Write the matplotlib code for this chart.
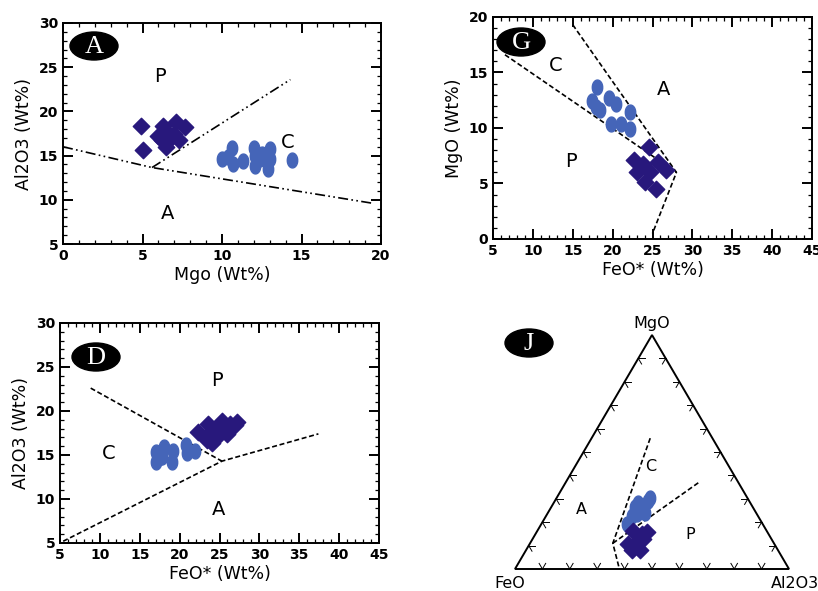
import matplotlib
matplotlib.use("Agg")
import matplotlib.pyplot as plt
import matplotlib.patches as patches
from matplotlib.path import Path
from matplotlib.ticker import MultipleLocator
import numpy as np

# ---- data ----
# panel A : MgO vs Al2O3
a_dia_mgo = [4.9, 5.0, 6.0, 6.3, 6.4, 6.7, 7.1, 7.3, 7.7, 6.5, 6.8, 7.0, 6.2]
a_dia_al = [18.4, 15.6, 17.2, 18.3, 16.5, 17.3, 18.8, 16.8, 18.2, 16.0, 17.0, 17.5, 16.8]
a_cir_mgo = [10.0, 10.4, 10.6, 10.7, 11.3, 12.0, 12.1, 12.1, 12.5, 12.8, 12.9, 13.0, 13.0, 14.4, 12.4]
a_cir_al = [14.6, 14.8, 15.9, 14.0, 14.4, 15.9, 14.9, 13.8, 15.2, 14.8, 13.5, 15.8, 14.6, 14.5, 14.6]
a_line1_x = [0, 5.6, 19.5]
a_line1_y = [16.0, 13.65, 9.6]
a_line2_x = [5.6, 14.3]
a_line2_y = [13.65, 23.6]

# panel G : FeO* vs MgO
g_cir_fe = [18.1, 17.4, 18.4, 19.5, 20.4, 19.8, 21.1, 22.2, 22.2, 17.9]
g_cir_mg = [13.7, 12.4, 11.6, 12.7, 12.2, 10.4, 10.4, 9.9, 11.4, 11.9]
g_dia_fe = [24.5, 22.7, 23.8, 23.0, 24.7, 25.7, 26.7, 24.0, 25.5, 24.2]
g_dia_mg = [8.3, 7.1, 6.8, 6.0, 6.0, 6.9, 6.2, 5.1, 4.5, 6.4]
g_line1_x = [6.5, 28.0]
g_line1_y = [16.6, 6.0]
g_line2_x = [15.0, 28.0, 25.0]
g_line2_y = [19.3, 6.0, 0.5]

# panel D : FeO* vs Al2O3
d_cir_fe = [17.1, 17.1, 18.0, 17.8, 19.2, 19.1, 20.8, 20.9, 21.9, 17.4]
d_cir_al = [15.3, 14.2, 15.9, 14.8, 15.5, 14.2, 16.1, 15.2, 15.5, 14.7]
d_dia_fe = [22.3, 23.6, 23.7, 24.9, 25.3, 26.3, 27.2, 24.6, 23.4, 25.9, 24.0, 26.9]
d_dia_al = [17.6, 18.5, 17.4, 17.8, 18.9, 18.5, 18.7, 16.9, 16.7, 17.4, 16.4, 18.4]
d_line1_x = [8.85, 25.3]
d_line1_y = [22.6, 14.3]
d_line2_x = [5.4, 25.3, 37.4]
d_line2_y = [5.2, 14.3, 17.4]

# panel J : ternary FeO - MgO - Al2O3 (percent)
j_cir_fe = [49.5, 46.0, 43.0, 40.8, 39.7, 36.8, 35.5, 40.5, 43.8]
j_cir_mg = [19.3, 22.8, 26.3, 28.4, 27.0, 29.1, 30.5, 24.1, 23.5]
j_cir_al = [31.2, 31.2, 30.7, 30.8, 33.3, 34.1, 34.0, 35.4, 32.7]
j_dia_fe = [48.6, 46.3, 44.1, 53.2, 49.8, 50.4, 53.4, 46.7]
j_dia_mg = [16.4, 15.0, 15.7, 10.8, 11.5, 8.0, 8.0, 12.9]
j_dia_al = [35.0, 38.7, 40.2, 36.0, 38.7, 41.6, 38.6, 40.4]
j_line1 = [(22.7, 55.9, 21.4), (58.8, 11.0, 30.2), (61.9, 0.0, 38.1)]
j_line2 = [(58.8, 11.0, 30.2), (13.9, 37.3, 48.8)]

dia_color = "#28187c"
cir_color = "#4565b8"

# tall ellipse marker
t = np.linspace(0, 2 * np.pi, 40)
ell_marker = Path(np.column_stack([0.7 * np.cos(t), np.sin(t)]))

fig = plt.figure(figsize=(8.18, 5.91), dpi=100)
W, H = 818.0, 591.0


def frame(left, top, right, bottom):
    return fig.add_axes([left / W, 1 - bottom / H, (right - left) / W, (bottom - top) / H])


def style(ax, xlim, ylim, xmaj, ymaj):
    ax.set_xlim(*xlim)
    ax.set_ylim(*ylim)
    ax.xaxis.set_major_locator(MultipleLocator(xmaj))
    ax.yaxis.set_major_locator(MultipleLocator(ymaj))
    ax.xaxis.set_minor_locator(MultipleLocator(1))
    ax.yaxis.set_minor_locator(MultipleLocator(1))
    ax.tick_params(which="both", direction="in", top=True, right=True)
    ax.tick_params(which="major", length=7, width=1.4, labelsize=10)
    ax.tick_params(which="minor", length=3, width=0.9)
    for s in ax.spines.values():
        s.set_linewidth(1.4)
    for lab in ax.get_xticklabels() + ax.get_yticklabels():
        lab.set_fontweight("bold")


def badge(cx, cy, letter):
    fig.patches.append(patches.Ellipse((cx / W, 1 - cy / H), 48 / W, 28 / H,
                                       transform=fig.transFigure, color="black"))
    fig.text(cx / W, 1 - cy / H - 0.002, letter, color="white", ha="center", va="center",
             family="Liberation Serif", fontsize=19)


ddot = (0, (6, 2, 1, 2, 1, 2))
dash = (0, (3, 1.6))
dsize = 70
csize = 115

# ---- A ----
ax = frame(63, 23, 381, 244)
style(ax, (0, 20), (5, 30), 5, 5)
ax.plot(a_line1_x, a_line1_y, color="black", lw=1.2, linestyle=ddot)
ax.plot(a_line2_x, a_line2_y, color="black", lw=1.2, linestyle=ddot)
ax.scatter(a_dia_mgo, a_dia_al, marker="D", s=dsize, color=dia_color, zorder=3)
ax.scatter(a_cir_mgo, a_cir_al, marker=ell_marker, s=csize, color=cir_color, zorder=3)
ax.text(6.1, 24.0, "P", fontsize=14, ha="center", va="center")
ax.text(14.1, 16.5, "C", fontsize=14, ha="center", va="center")
ax.text(6.6, 8.5, "A", fontsize=14, ha="center", va="center")
ax.set_xlabel("Mgo (Wt%)", fontsize=12.5, labelpad=2)
ax.set_ylabel("Al2O3 (Wt%)", fontsize=12.5, labelpad=4)
badge(94, 46, "A")

# ---- G ----
ax = frame(493, 17, 812, 239)
style(ax, (5, 45), (0, 20), 5, 5)
ax.plot(g_line1_x, g_line1_y, color="black", lw=1.2, linestyle=dash)
ax.plot(g_line2_x, g_line2_y, color="black", lw=1.2, linestyle=dash)
ax.scatter(g_dia_fe, g_dia_mg, marker="D", s=dsize, color=dia_color, zorder=3)
ax.scatter(g_cir_fe, g_cir_mg, marker=ell_marker, s=csize, color=cir_color, zorder=3)
ax.text(12.9, 15.6, "C", fontsize=14, ha="center", va="center")
ax.text(26.4, 13.5, "A", fontsize=14, ha="center", va="center")
ax.text(14.8, 7.0, "P", fontsize=14, ha="center", va="center")
ax.set_xlabel("FeO* (Wt%)", fontsize=12.5, labelpad=2)
ax.set_ylabel("MgO (Wt%)", fontsize=12.5, labelpad=4)
badge(521, 42, "G")

# ---- D ----
ax = frame(60, 323, 379, 543)
style(ax, (5, 45), (5, 30), 5, 5)
ax.plot(d_line1_x, d_line1_y, color="black", lw=1.2, linestyle=dash)
ax.plot(d_line2_x, d_line2_y, color="black", lw=1.2, linestyle=dash)
ax.scatter(d_dia_fe, d_dia_al, marker="D", s=dsize, color=dia_color, zorder=3)
ax.scatter(d_cir_fe, d_cir_al, marker=ell_marker, s=csize, color=cir_color, zorder=3)
ax.text(24.7, 23.5, "P", fontsize=14, ha="center", va="center")
ax.text(11.1, 15.2, "C", fontsize=14, ha="center", va="center")
ax.text(24.9, 8.8, "A", fontsize=14, ha="center", va="center")
ax.set_xlabel("FeO* (Wt%)", fontsize=12.5, labelpad=2)
ax.set_ylabel("Al2O3 (Wt%)", fontsize=12.5, labelpad=4)
badge(96, 357, "D")

# ---- J (ternary) ----
r3 = np.sqrt(3) / 2
ax = fig.add_axes([490 / W, 0, 328 / W, 291 / H])
ax.set_xlim(-25 / 274, 303 / 274)
ax.set_ylim(-22 / 270.2 * r3 / 0.866, 269 / 270.2)
ax.axis("off")


def tern(fe, mg, al):
    fe, mg, al = np.asarray(fe, float), np.asarray(mg, float), np.asarray(al, float)
    tot = fe + mg + al
    return (al + 0.5 * mg) / tot, r3 * mg / tot


tri = Path([(0, 0), (1, 0), (0.5, r3), (0, 0)],
           [Path.MOVETO, Path.LINETO, Path.LINETO, Path.CLOSEPOLY])
ax.add_patch(patches.PathPatch(tri, fill=False, lw=1.4, color="black"))

# little tick stubs every 10 %
L = 0.024
for k in range(1, 10):
    f = k / 10
    # bottom edge
    p = np.array([f, 0])
    for d in [(0.5, r3), (-0.5, r3)]:
        ax.plot([p[0], p[0] + L * d[0]], [p[1], p[1] + L * d[1]], color="black", lw=0.7)
    # left edge
    p = np.array([0.5 * f, r3 * f])
    for d in [(1, 0), (0.5, -r3)]:
        ax.plot([p[0], p[0] + L * d[0]], [p[1], p[1] + L * d[1]], color="black", lw=0.7)
    # right edge
    p = np.array([1 - 0.5 * f, r3 * f])
    for d in [(-1, 0), (-0.5, -r3)]:
        ax.plot([p[0], p[0] + L * d[0]], [p[1], p[1] + L * d[1]], color="black", lw=0.7)

for ln in (j_line1, j_line2):
    fe, mg, al = zip(*ln)
    x, y = tern(fe, mg, al)
    ax.plot(x, y, color="black", lw=1.2, linestyle=dash)

x, y = tern(j_cir_fe, j_cir_mg, j_cir_al)
ax.scatter(x, y, marker=ell_marker, s=csize, color=cir_color, zorder=3)
x, y = tern(j_dia_fe, j_dia_mg, j_dia_al)
ax.scatter(x, y, marker="D", s=dsize, color=dia_color, zorder=3)

ax.text(0.496, 0.374 * 0.866 / 0.854, "C", fontsize=11.5, ha="center", va="center")
ax.text(0.243, 0.218 * 0.866 / 0.854, "A", fontsize=11.5, ha="center", va="center")
ax.text(0.641, 0.126 * 0.866 / 0.854, "P", fontsize=11.5, ha="center", va="center")
ax.text(0.5, r3 + 0.015, "MgO", fontsize=11.5, ha="center", va="bottom")
ax.text(-0.02, -0.025, "FeO", fontsize=11.5, ha="center", va="top")
ax.text(1.02, -0.025, "Al2O3", fontsize=11.5, ha="center", va="top")
badge(529, 343, "J")

fig.savefig("out.png", dpi=100)
